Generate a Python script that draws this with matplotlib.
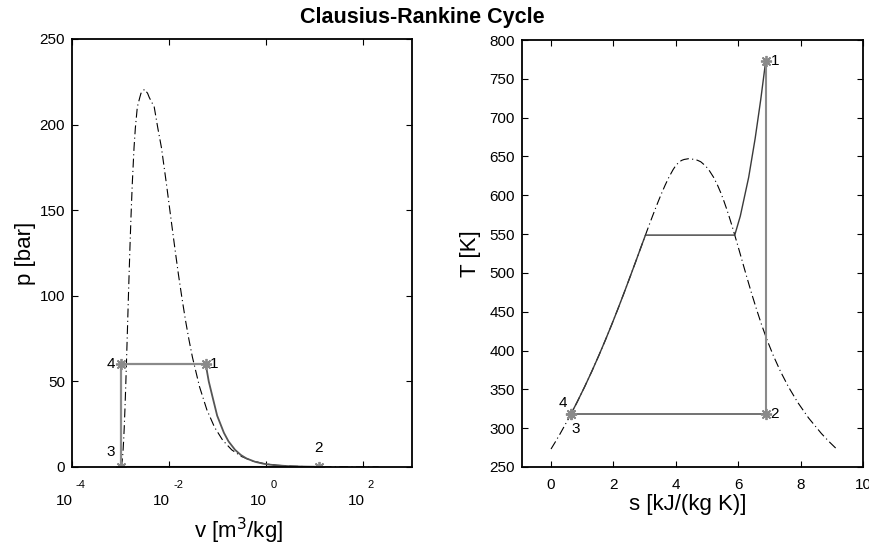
import matplotlib
matplotlib.use('Agg')
import matplotlib.pyplot as plt
from matplotlib import ticker

plt.rcParams['font.family'] = ['Liberation Sans', 'DejaVu Sans']

# saturation dome (steam table values)
sat_p = [0.00611, 0.01228, 0.02339, 0.07384, 0.1994, 0.4739, 1.0142, 1.985, 3.613,
         6.178, 10.02, 15.54, 23.18, 33.44, 46.88, 64.12, 74.4, 85.81, 98.7, 112.7,
         128.6, 145.9, 165.3, 186.5, 198.1, 210.3, 215.9, 218.3, 220.6]
sat_T = [273.16, 283.15, 293.15, 313.15, 333.15, 353.15, 373.15, 393.15, 413.15,
         433.15, 453.15, 473.15, 493.15, 513.15, 533.15, 553.15, 563.15, 573.15,
         583.15, 593.15, 603.15, 613.15, 623.15, 633.15, 638.15, 643.15, 645.15,
         646.15, 647.1]
sat_vf = [0.001000, 0.001000, 0.001002, 0.001008, 0.001017, 0.001029, 0.001043,
          0.001060, 0.001080, 0.001102, 0.001127, 0.001157, 0.001190, 0.001229,
          0.001276, 0.001332, 0.001366, 0.001404, 0.001447, 0.001499, 0.001561,
          0.001638, 0.001741, 0.001893, 0.002016, 0.002213, 0.002490, 0.002630,
          0.003106]
sat_vg = [206.1, 106.4, 57.79, 19.52, 7.671, 3.407, 1.672, 0.8919, 0.5089, 0.3071,
          0.1941, 0.1274, 0.08619, 0.05976, 0.04221, 0.03017, 0.02557, 0.02167,
          0.01835, 0.01549, 0.01300, 0.01080, 0.008799, 0.006945, 0.005834,
          0.004926, 0.003890, 0.003600, 0.003106]
sat_sf = [0.0, 0.1511, 0.2965, 0.5724, 0.8312, 1.0754, 1.3069, 1.5276, 1.7391,
          1.9428, 2.1397, 2.3309, 2.5175, 2.7020, 2.8838, 3.0668, 3.1594, 3.2534,
          3.3493, 3.4480, 3.5507, 3.6594, 3.7777, 3.9147, 3.9978, 4.1106, 4.2000,
          4.2700, 4.4070]
sat_sg = [9.1555, 8.8998, 8.6660, 8.2555, 7.9082, 7.6111, 7.3545, 7.1293, 6.9294,
          6.7502, 6.5872, 6.4323, 6.2861, 6.1437, 6.0019, 5.8571, 5.7821, 5.7045,
          5.6230, 5.5362, 5.4417, 5.3357, 5.2112, 5.0526, 4.9447, 4.7997, 4.6900,
          4.6000, 4.4070]

# cycle state points 1..4
pt_labels = ['1', '2', '3', '4']
pt_p = [60.0, 0.096, 0.096, 60.0]
pt_v = [0.0567, 12.0, 0.00101, 0.00101]
pt_T = [773.15, 318.15, 318.15, 318.5]
pt_s = [6.8826, 6.8826, 0.6387, 0.6400]

# expansion 1 -> 2 in p-v
exp_p = [60.0, 50.0, 40.0, 30.0, 20.0, 15.0, 10.0, 7.0, 5.0, 3.0, 2.0, 1.5, 1.0,
         0.5, 0.3, 0.2, 0.15, 0.096]
exp_v = [0.0567, 0.0654, 0.0797, 0.0974, 0.134, 0.1666, 0.228, 0.2999, 0.39,
         0.5934, 0.847, 1.091, 1.56, 2.886, 4.55, 6.54, 8.46, 12.0]

# heating 4 -> 1 in T-s (liquid, boiling, superheat)
heat_s = [0.640, 0.8312, 1.0754, 1.3069, 1.5276, 1.7391, 1.9428, 2.1397, 2.3309,
          2.5175, 2.7020, 2.8838, 3.0267, 5.8892, 6.0670, 6.3357, 6.5432, 6.7219,
          6.8826]
heat_T = [318.5, 333.15, 353.15, 373.15, 393.15, 413.15, 433.15, 453.15, 473.15,
          493.15, 513.15, 533.15, 548.7, 548.7, 573.15, 623.15, 673.15, 723.15,
          773.15]

dome_v = sat_vf + sat_vg[::-1]
dome_p = sat_p + sat_p[::-1]
dome_s = sat_sf + sat_sg[::-1]
dome_T = sat_T + sat_T[::-1]

GRAY = '#8a8a8a'
DARK = '#3a3a3a'
DASH = (8, 3, 1, 3)
STAR = (8, 2, 0)

fig = plt.figure(figsize=(8.7, 5.49), dpi=100)
ax1 = fig.add_axes([72 / 870, 1 - 467 / 549, 340 / 870, 428 / 549])
ax2 = fig.add_axes([522 / 870, 1 - 467 / 549, 341 / 870, 427 / 549])

# ---- p-v diagram
ax1.plot(dome_v, dome_p, color='black', lw=0.8, dashes=DASH)
ax1.plot(exp_v, exp_p, color='#555555', lw=1.3)
ax1.plot([pt_v[1], pt_v[2]], [pt_p[1], pt_p[2]], color=DARK, lw=1.5)
ax1.plot([pt_v[2], pt_v[3], pt_v[0]], [pt_p[2], pt_p[3], pt_p[0]], color=GRAY, lw=1.6)
ax1.plot(pt_v, pt_p, ls='none', marker=STAR, ms=8, mew=1.3, color=GRAY)
ax1.set_xscale('log')
ax1.set_xlim(1e-4, 1e3)
ax1.set_ylim(0, 250)
ax1.yaxis.set_major_locator(ticker.MultipleLocator(50))
xt = [1e-4, 1e-2, 1e0, 1e2]
ax1.xaxis.set_major_locator(ticker.FixedLocator(xt))
ax1.xaxis.set_minor_locator(ticker.NullLocator())
ax1.set_xticklabels([])
for t, e in zip(xt, ['-4', '-2', '0', '2']):
    ax1.annotate('10', xy=(t, 0), xycoords=('data', 'axes fraction'),
                 xytext=(1, -34), textcoords='offset pixels',
                 ha='right', va='center', fontsize=11)
    ax1.annotate(e, xy=(t, 0), xycoords=('data', 'axes fraction'),
                 xytext=(4, -18), textcoords='offset pixels',
                 ha='left', va='center', fontsize=8)
off1 = {'1': (4, 0, 'left', 'center'), '2': (0, 12, 'center', 'bottom'),
        '3': (-6, 8, 'right', 'bottom'), '4': (-6, 0, 'right', 'center')}
for lab, v, p in zip(pt_labels, pt_v, pt_p):
    dx, dy, ha, va = off1[lab]
    ax1.annotate(lab, (v, p), xytext=(dx, dy), textcoords='offset pixels',
                 ha=ha, va=va, fontsize=11)
ax1.set_ylabel('p [bar]', fontsize=16)
ax1.yaxis.set_label_coords(-0.105, 0.5)
ax1.set_xlabel('v [m$^3$/kg]', fontsize=16)
ax1.xaxis.set_label_coords(0.49, -0.115)

# ---- T-s diagram
ax2.plot(dome_s, dome_T, color='black', lw=0.8, dashes=DASH)
ax2.plot(heat_s, heat_T, color=DARK, lw=1.0)
ax2.plot([pt_s[0], pt_s[1]], [pt_T[0], pt_T[1]], color=GRAY, lw=1.5)
ax2.plot([pt_s[1], pt_s[2]], [pt_T[1], pt_T[2]], color='#5a5a5a', lw=1.2)
ax2.plot(pt_s, pt_T, ls='none', marker=STAR, ms=8, mew=1.3, color=GRAY)
ax2.set_xlim(-0.93, 10)
ax2.set_ylim(250, 800)
ax2.yaxis.set_major_locator(ticker.MultipleLocator(50))
ax2.xaxis.set_major_locator(ticker.MultipleLocator(2))
off2 = {'1': (5, 0, 'left', 'center'), '2': (5, 0, 'left', 'center'),
        '3': (1, -8, 'left', 'top'), '4': (-4, 4, 'right', 'bottom')}
for lab, s, T in zip(pt_labels, pt_s, pt_T):
    dx, dy, ha, va = off2[lab]
    ax2.annotate(lab, (s, T), xytext=(dx, dy), textcoords='offset pixels',
                 ha=ha, va=va, fontsize=11)
ax2.set_ylabel('T [K]', fontsize=16)
ax2.yaxis.set_label_coords(-0.12, 0.5)
ax2.set_xlabel('s [kJ/(kg K)]', fontsize=16)
ax2.xaxis.set_label_coords(0.487, -0.064)

for ax in (ax1, ax2):
    ax.tick_params(direction='in', top=True, right=True, length=4, width=0.8,
                   labelsize=11)
    ax.tick_params(axis='x', pad=8)
    ax.tick_params(axis='y', pad=5)
    for sp in ax.spines.values():
        sp.set_linewidth(1.3)

fig.text(0.485, 1 - 17 / 549, 'Clausius-Rankine Cycle', ha='center', va='center',
         fontsize=15.5, fontweight='bold')

fig.savefig('out.png', dpi=100)
